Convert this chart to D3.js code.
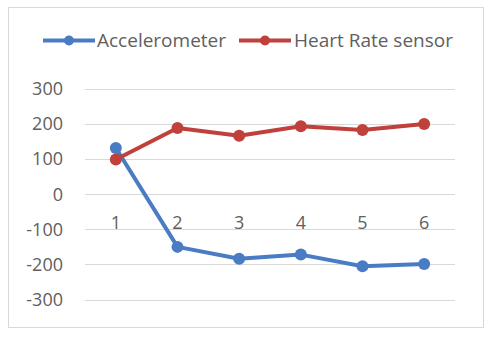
<!DOCTYPE html>
<html><head><meta charset="utf-8">
<script src="https://cdn.jsdelivr.net/npm/d3@7"></script>
<style>body{margin:0;background:#fff}svg{display:block}text{font-family:"Open Sans","Noto Sans",sans-serif;fill:#606060}</style>
</head><body><svg id="c" width="495" height="339"></svg>
<script>
const categories = ["1","2","3","4","5","6"];
const accelerometer = [132, -150, -184, -172, -205, -199];
const heartRate = [99, 189, 167, 194, 183, 200];
const yTicks = [-300,-200,-100,0,100,200,300];
const seriesNames = ["Accelerometer","Heart Rate sensor"];
const colors = ["#4A7CC4","#C0403C"];

const svg = d3.select("#c");
svg.append("rect").attr("x",8.5).attr("y",7.5).attr("width",475).attr("height",320)
  .attr("fill","#fff").attr("stroke","#d9d9d9");

const x = d3.scaleBand().domain(categories).range([85,455]);
const y = d3.scaleLinear().domain([-300,300]).range([299.5,89]);

// grid
svg.append("g").selectAll("line").data(yTicks).join("line")
  .attr("x1",85).attr("x2",455).attr("y1",d=>Math.round(y(d))+0.5).attr("y2",d=>Math.round(y(d))+0.5)
  .attr("stroke","#d9d9d9").attr("stroke-width",1);

// y labels
svg.append("g").selectAll("text").data(yTicks).join("text")
  .attr("x",63).attr("y",d=>y(d)).attr("dy","0.35em").attr("text-anchor","end")
  .attr("font-size",18).text(d=>d);

// x labels
svg.append("g").selectAll("text").data(categories).join("text")
  .attr("x",d=>x(d)+x.bandwidth()/2).attr("y",y(0)+28).attr("dy","0.35em").attr("text-anchor","middle")
  .attr("font-size",18).text(d=>d);

const line = d3.line().x((d,i)=>x(categories[i])+x.bandwidth()/2).y(d=>y(d));
[accelerometer, heartRate].forEach((s,k)=>{
  const g = svg.append("g");
  g.append("path").attr("d",line(s)).attr("fill","none").attr("stroke",colors[k]).attr("stroke-width",4).attr("stroke-linejoin","round");
  g.selectAll("circle").data(s).join("circle")
    .attr("cx",(d,i)=>x(categories[i])+x.bandwidth()/2).attr("cy",d=>y(d)).attr("r",6).attr("fill",colors[k]);
});

// legend
const leg = [{x:43,tx:97},{x:239,tx:294}];
seriesNames.forEach((n,k)=>{
  const g = svg.append("g");
  g.append("line").attr("x1",leg[k].x).attr("x2",leg[k].x+52).attr("y1",40.5).attr("y2",40.5)
    .attr("stroke",colors[k]).attr("stroke-width",4);
  g.append("circle").attr("cx",leg[k].x+26).attr("cy",40.5).attr("r",5).attr("fill",colors[k]);
  g.append("text").attr("x",leg[k].tx).attr("y",40).attr("dy","0.35em").attr("font-size",19).text(n);
});
</script></body></html>
